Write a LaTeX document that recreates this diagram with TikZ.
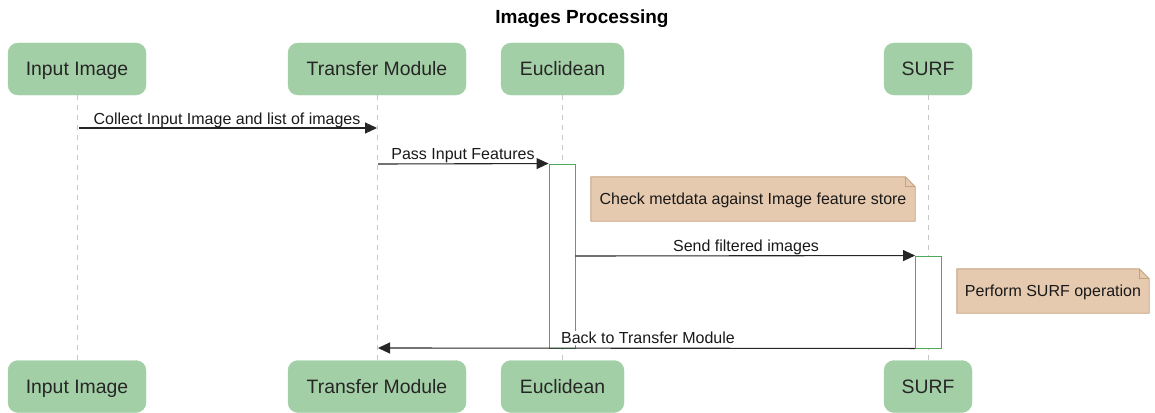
\documentclass[tikz,border=0pt]{standalone}
\usepackage{fontspec}
\setmainfont{Liberation Sans}
\usetikzlibrary{arrows.meta}
\pgfdeclarelayer{bg}
\pgfsetlayers{bg,main}
\definecolor{partfill}{HTML}{A3CFA6}
\definecolor{notefill}{HTML}{E6CAAF}
\definecolor{notedraw}{HTML}{C6A27E}
\definecolor{actdraw}{HTML}{4DAA5A}
\definecolor{lifegray}{HTML}{C8C8C8}
\begin{document}
\begin{tikzpicture}[x=1pt,y=-1pt,
  part/.style={fill=partfill, draw=partfill, rounded corners=10pt, minimum height=52pt, inner sep=0pt, font=\fontsize{19.4}{22}\selectfont, text=black!85, text height=13.9pt, text depth=0pt},
  life/.style={draw=lifegray, dash pattern=on 5pt off 5pt, line width=0.9pt},
  msg/.style={draw=black!85, line width=1.1pt, -{Triangle[length=12pt,width=11pt]}},
  mlabel/.style={font=\fontsize{16}{19}\selectfont, inner sep=1pt, text=black!90, anchor=base},
  act/.style={draw=actdraw, fill=white, line width=0.9pt, minimum width=26pt, inner sep=0pt},
  notetext/.style={font=\fontsize{16}{19}\selectfont, minimum height=44pt, inner sep=0pt, text=black!90, text height=11.5pt, text depth=0pt},
  notebg/.style={fill=notefill, draw=notedraw, line width=0.9pt}
]
\useasboundingbox (0,0) rectangle (1155,412);
\node[font=\bfseries\fontsize{19}{22}\selectfont, anchor=base] (title) at (582,24) {Images Processing};

% participants
\node[part, minimum width=138pt] (ii) at (77,69) {Input Image};
\node[part, minimum width=178pt] (tm) at (377,69) {Transfer Module};
\node[part, minimum width=123pt] (eu) at (562.5,69) {Euclidean};
\node[part, minimum width=88pt] (su) at (928,69) {SURF};
\node[part, minimum width=138pt] (iib) at (77,386.5) {Input Image};
\node[part, minimum width=178pt] (tmb) at (377,386.5) {Transfer Module};
\node[part, minimum width=123pt] (eub) at (562.5,386.5) {Euclidean};
\node[part, minimum width=88pt] (sub) at (928,386.5) {SURF};

% lifelines
\draw[life] (ii.south) -- (iib.north);
\draw[life] (tm.south) -- (tmb.north);
\draw[life] (eu.south) -- (eub.north);
\draw[life] (su.south) -- (sub.north);

% activations
\node[act, minimum height=184pt] (eact) at (562,256) {};
\node[act, minimum height=92pt] (sact) at (928.5,302) {};

% message 1
\path (ii.south |- 0,128) ++(2,0) coordinate (m1s);
\path (tm.south |- 0,128) coordinate (m1e);
\draw[msg] (m1s) -- (m1e);
\node[mlabel] (l1) at (227,124) {Collect Input Image and list of images};

% message 2
\path (tm.south |- 0,164) ++(1,0) coordinate (m2s);
\draw[msg] (m2s) -- (eact.north west);
\node[mlabel] (l2) at (463,159.5) {Pass Input Features};

% note 1
\node[notetext, minimum width=324pt] (n1) at (753,199) {Check metdata against Image feature store};
\begin{pgfonlayer}{bg}
\draw[notebg] (n1.south west) -- (n1.north west) -- ([xshift=-10pt]n1.north east) -- ([yshift=-10pt]n1.north east) -- (n1.south east) -- cycle;
\draw[notedraw, line width=0.9pt] ([xshift=-10pt]n1.north east) -- ([xshift=-10pt,yshift=-10pt]n1.north east) -- ([yshift=-10pt]n1.north east);
\end{pgfonlayer}

% message 3
\path (eact.east |- 0,256) coordinate (m3s);
\draw[msg] (m3s) -- (sact.north west);
\node[mlabel] (l3) at (746,251.5) {Send filtered images};

% note 2
\node[notetext, minimum width=192pt] (n2) at (1053,291) {Perform SURF operation};
\begin{pgfonlayer}{bg}
\draw[notebg] (n2.south west) -- (n2.north west) -- ([xshift=-10pt]n2.north east) -- ([yshift=-10pt]n2.north east) -- (n2.south east) -- cycle;
\draw[notedraw, line width=0.9pt] ([xshift=-10pt]n2.north east) -- ([xshift=-10pt,yshift=-10pt]n2.north east) -- ([yshift=-10pt]n2.north east);
\end{pgfonlayer}

% message 4
\path (tm.south |- 0,348) ++(1,0) coordinate (m4e);
\draw[msg] (sact.south west) -- (m4e);
\node[mlabel, fill=white] (l4) at (648,343.5) {Back to Transfer Module};
\end{tikzpicture}
\end{document}
